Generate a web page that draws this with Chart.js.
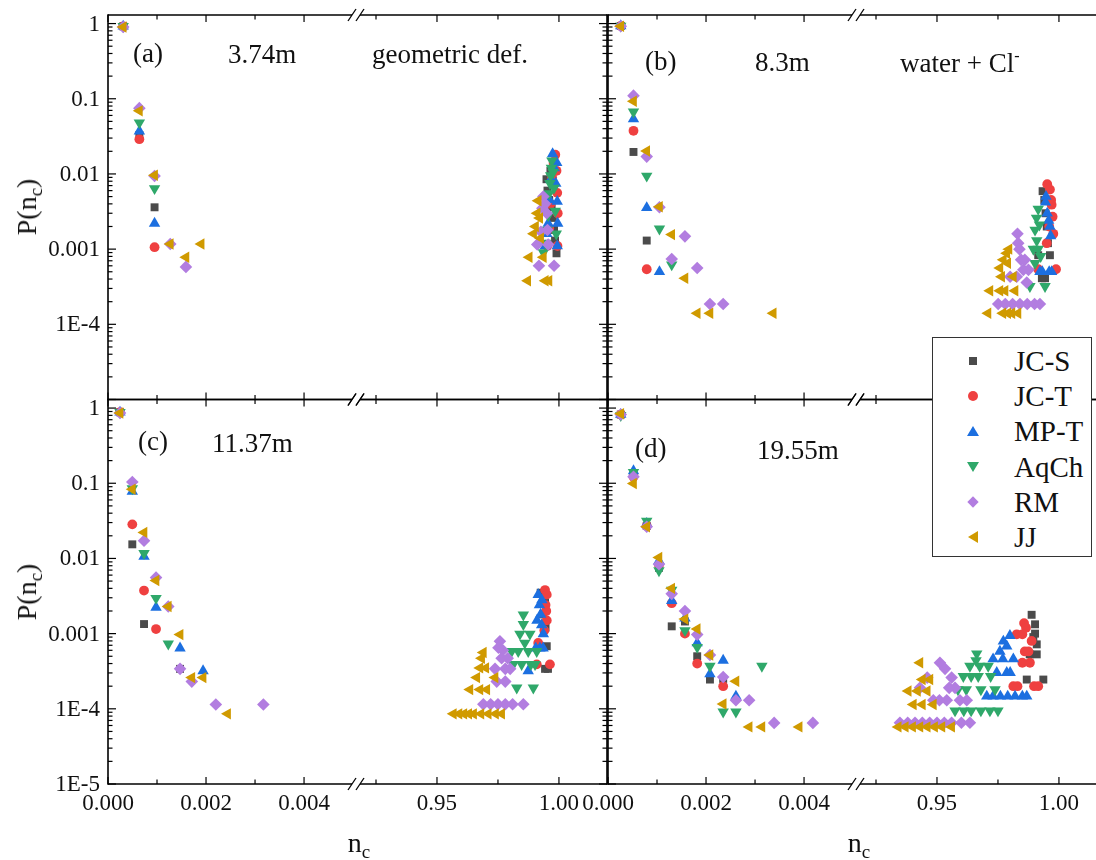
<!DOCTYPE html>
<html><head><meta charset="utf-8">
<script src="https://cdn.jsdelivr.net/npm/chart.js@4.4.1/dist/chart.umd.min.js"></script>
<style>
html,body{margin:0;padding:0;background:#fff;}
body{width:1096px;height:860px;position:relative;overflow:hidden;font-family:"Liberation Serif","Times New Roman",serif;color:#111;}
canvas{position:absolute;}
.t{position:absolute;white-space:nowrap;line-height:1;font-size:27px;}
.ax{position:absolute;white-space:nowrap;line-height:1;font-size:28px;}
sub{font-size:19px;vertical-align:-6px;line-height:0;}
sup{font-size:16px;vertical-align:11px;line-height:0;}
#legend{position:absolute;left:932px;top:337px;width:158px;height:218px;border:1.3px solid #333;background:#fff;}
.lr{position:absolute;left:0;width:158px;height:35px;}
.lt{position:absolute;left:81px;top:3px;font-size:29px;line-height:1;}
.mk{position:absolute;left:40px;top:17px;transform:translate(-50%,-50%);}
</style></head><body>
<script>
// ---------------- data ----------------
const SERIES = ['JC-S','JC-T','MP-T','AqCh','RM','JJ'];
const Y_DECADES = [1e-5,1e-4,1e-3,1e-2,1e-1,1];
const Y_LABELS = ['1E-5','1E-4','0.001','0.01','0.1','1'];
const XL_TICKS = [0,0.002,0.004];
const XL_LABELS = ['0.000','0.002','0.004'];
const XL_MINOR = [0.001,0.003];
const XR_TICKS = [0.95,1.00];
const XR_LABELS = ['0.95','1.00'];
const XR_MINOR = [0.925,0.975];
const PANEL_TAGS = ['(a)','(b)','(c)','(d)'];
const PANEL_CONC = ['3.74m','8.3m','11.37m','19.55m'];

// panel (a) 3.74m
const a_JCS = [[0.00031,0.92],[0.00064,0.033],[0.00095,0.0036],
 [0.9949,0.0085],[0.9953,0.0060],[0.9960,0.0045],[0.9965,0.0110],[0.9970,0.0036],[0.9972,0.0075],[0.9975,0.0026],[0.9980,0.0018],[0.9984,0.0013],[0.9990,0.00088]];
const a_JCT = [[0.00031,0.92],[0.00064,0.029],[0.00095,0.00106],
 [0.9952,0.0011],[0.9960,0.0019],[0.9966,0.0040],[0.9972,0.0090],[0.9978,0.0140],[0.9985,0.0180],[0.9990,0.0110],[0.9993,0.0056],[0.9995,0.0030],[0.9994,0.0011]];
const a_MPT = [[0.00031,0.92],[0.00064,0.037],[0.00095,0.0022],
 [0.9944,0.0011],[0.9950,0.0016],[0.9956,0.0022],[0.9962,0.0045],[0.9967,0.0085],[0.9974,0.0185],[0.9981,0.0120],[0.9987,0.0075],[0.9991,0.0141],[0.9993,0.0043],[0.9995,0.0022],[0.9993,0.0011]];
const a_AqCh = [[0.00031,0.92],[0.00064,0.048],[0.00095,0.0064],
 [0.9936,0.0009],[0.9945,0.0012],[0.9952,0.0018],[0.9956,0.0028],[0.9960,0.0055],[0.9963,0.0075],[0.9966,0.0095],[0.9969,0.0120],[0.9971,0.0150],[0.9976,0.0105],[0.9980,0.0065],[0.9985,0.0032],[0.9989,0.0016]];
const a_RM = [[0.00031,0.90],[0.00064,0.075],[0.00095,0.0094],[0.00127,0.00117],[0.00159,0.00058],
 [0.9911,0.00115],[0.9918,0.0006],[0.9926,0.0017],[0.9932,0.0035],[0.9936,0.0050],[0.9943,0.0040],[0.9950,0.0030],[0.9953,0.0018],[0.9956,0.00115],[0.9980,0.0006]];
const a_JJ = [[0.00031,0.90],[0.00064,0.069],[0.00095,0.0096],[0.00127,0.00117],[0.00159,0.00078],[0.0019,0.00117],
 [0.9872,0.00038],[0.9878,0.00078],[0.9896,0.0016],[0.9904,0.0020],[0.9911,0.0030],[0.9915,0.0044],[0.9921,0.0026],[0.9925,0.0014],[0.9936,0.00078],[0.9944,0.00038],[0.9959,0.00038]];

// panel (b) 8.3m
const b_JCS = [[0.00026,0.93],[0.00052,0.0196],[0.00079,0.0013],
 [0.9915,0.00083],[0.9933,0.0059],[0.9940,0.0045],[0.9945,0.0030],[0.9950,0.0020],[0.9955,0.0012],[0.9963,0.00083],[0.9943,0.00041],[0.9930,0.00041]];
const b_JCT = [[0.00026,0.93],[0.00052,0.0375],[0.00079,0.00054],
 [0.9952,0.0073],[0.9963,0.0062],[0.9968,0.0045],[0.9970,0.0039],[0.9974,0.0027],[0.9960,0.0020],[0.9977,0.0016],[0.9950,0.0012],[0.9915,0.00054],[0.9988,0.00054]];
const b_MPT = [[0.00026,0.93],[0.00052,0.0537],[0.00079,0.00355],[0.00105,0.0005],
 [0.9947,0.0050],[0.9945,0.0042],[0.9952,0.0030],[0.9958,0.0024],[0.9963,0.0020],[0.9966,0.0015],[0.9922,0.00050],[0.9932,0.00050],[0.9960,0.00050],[0.9970,0.00050]];
const b_AqCh = [[0.00026,0.93],[0.00052,0.067],[0.00079,0.0094],[0.00105,0.00186],[0.0013,0.00062],
 [0.9915,0.0034],[0.9908,0.0026],[0.9920,0.0021],[0.9902,0.0018],[0.9909,0.0013],[0.9895,0.0010],[0.9915,0.0010],[0.9925,0.0008],[0.9902,0.00065],[0.9881,0.00032],[0.9943,0.00032]];
const b_RM = [[0.00026,0.92],[0.00052,0.110],[0.00079,0.017],[0.00105,0.0036],[0.0013,0.00074],[0.00157,0.00148],[0.00182,0.00056],[0.00208,0.000186],[0.00235,0.000186],
 [0.9830,0.0016],[0.9833,0.0012],[0.9838,0.0010],[0.9845,0.00072],[0.9860,0.00072],[0.9854,0.00053],[0.9875,0.00053],[0.9827,0.00043],[0.9800,0.00043],[0.9868,0.00036],
 [0.9751,0.000186],[0.9780,0.000186],[0.9810,0.000186],[0.9840,0.000186],[0.9870,0.000186],[0.9900,0.000186],[0.9922,0.000186]];
const b_JJ = [[0.00026,0.92],[0.00052,0.0925],[0.00079,0.0202],[0.00105,0.00366],[0.0013,0.00156],[0.00157,0.00041],[0.00182,0.00014],[0.00208,0.00014],[0.00337,0.00014],
 [0.9795,0.0010],[0.9786,0.00088],[0.9772,0.00072],[0.9790,0.00065],[0.9758,0.00056],[0.9765,0.00043],[0.9813,0.00043],
 [0.9717,0.00028],[0.9758,0.00028],[0.9779,0.00028],[0.9820,0.00028],[0.9709,0.00014],[0.9770,0.00014],[0.9790,0.00014],[0.9807,0.00014],[0.9832,0.00014]];

// panel (c) 11.37m
const c_JCS = [[0.000245,0.88],[0.000496,0.0154],[0.000735,0.00134],[0.00147,0.00034],
 [0.9925,0.0035],[0.9943,0.0026],[0.9935,0.0018],[0.9945,0.0012],[0.9950,0.00068],[0.9943,0.00034],[0.9955,0.00034]];
const c_JCT = [[0.000245,0.88],[0.000496,0.0284],[0.000735,0.00374],[0.00098,0.00115],
 [0.9943,0.0038],[0.9950,0.0033],[0.9945,0.0024],[0.9948,0.0020],[0.9950,0.0015],[0.9940,0.0011],[0.9915,0.00075],[0.9963,0.00039],[0.9909,0.00039]];
const c_MPT = [[0.000245,0.88],[0.000496,0.078],[0.000735,0.0106],[0.00098,0.00223],[0.00147,0.00064],[0.00194,0.00032],
 [0.9915,0.0033],[0.9930,0.0028],[0.9920,0.0024],[0.9925,0.0018],[0.9910,0.0015],[0.9929,0.0013],[0.9936,0.00099],[0.9905,0.00064],[0.9922,0.00064],[0.9935,0.00064],[0.9874,0.00032]];
const c_AqCh = [[0.000245,0.88],[0.000496,0.085],[0.000735,0.0117],[0.00098,0.00296],[0.00123,0.00073],
 [0.9854,0.00178],[0.9854,0.00133],[0.9840,0.00099],[0.9881,0.00099],[0.9860,0.00075],[0.9806,0.00058],[0.9833,0.00058],[0.9874,0.00058],[0.9909,0.00058],
 [0.9813,0.00039],[0.9847,0.00039],[0.9885,0.00039],[0.9902,0.00039],[0.9827,0.00019],[0.9895,0.00019]];
const c_RM = [[0.000245,0.86],[0.000496,0.104],[0.000735,0.0172],[0.00098,0.00556],[0.00123,0.0023],[0.00147,0.00034],[0.00171,0.00023],[0.0022,0.000114],[0.00317,0.000114],
 [0.9758,0.00079],[0.9752,0.00065],[0.9770,0.0006],[0.9765,0.00047],[0.9790,0.00047],[0.9738,0.00034],[0.9780,0.00034],[0.9800,0.00034],[0.9745,0.00023],[0.9780,0.00023],
 [0.9690,0.000115],[0.9720,0.000115],[0.9750,0.000115],[0.9780,0.000115],[0.9810,0.000115],[0.9854,0.000115]];
const c_JJ = [[0.000245,0.86],[0.000496,0.083],[0.000735,0.0222],[0.00098,0.00508],[0.00123,0.0023],[0.00147,0.00097],[0.00171,0.00026],[0.00194,0.00026],[0.00244,0.0000857],
 [0.9690,0.00056],[0.9683,0.00047],[0.9676,0.00035],[0.9700,0.00035],[0.9663,0.00026],[0.9738,0.00026],[0.9635,0.00018],[0.9676,0.00018],[0.9704,0.00018],
 [0.9567,0.0000857],[0.9590,0.0000857],[0.9610,0.0000857],[0.9630,0.0000857],[0.9650,0.0000857],[0.9680,0.0000857],[0.9710,0.0000857],[0.9740,0.0000857],[0.9765,0.0000857]];

// panel (d) 19.55m
const d_JCS = [[0.00026,0.82],[0.00052,0.13],[0.00079,0.027],[0.00104,0.0075],[0.0013,0.00125],[0.00157,0.00145],[0.00182,0.0005],[0.00208,0.000245],[0.00235,0.00025],
 [0.9888,0.00178],[0.9902,0.00133],[0.9902,0.0010],[0.9895,0.0009],[0.9909,0.00072],[0.9909,0.00053],[0.9880,0.00053],[0.9868,0.000245],[0.9936,0.000245]];
const d_JCT = [[0.00026,0.82],[0.00052,0.122],[0.00079,0.027],[0.00104,0.0082],[0.0013,0.00254],[0.00157,0.001],[0.00182,0.0004],[0.00235,0.0002],
 [0.9857,0.00138],[0.9865,0.0012],[0.9827,0.00098],[0.9850,0.00098],[0.9888,0.0008],[0.9860,0.00058],[0.9875,0.00058],[0.9881,0.00041],[0.9850,0.00041],
 [0.9813,0.0002],[0.9830,0.0002],[0.9898,0.0002],[0.9915,0.0002]];
const d_MPT = [[0.00026,0.82],[0.00052,0.146],[0.00079,0.029],[0.00104,0.0093],[0.0013,0.00275],[0.00157,0.0016],[0.00182,0.00075],[0.00208,0.00029],[0.00235,0.00044],[0.00261,0.000147],
 [0.9799,0.00094],[0.9772,0.00079],[0.9786,0.00068],[0.9758,0.00058],[0.9730,0.00046],[0.9770,0.00046],[0.9813,0.00046],[0.9745,0.000303],[0.9786,0.000303],[0.9800,0.000303],
 [0.9704,0.000147],[0.9730,0.000147],[0.9760,0.000147],[0.9790,0.000147],[0.9820,0.000147],[0.9850,0.000147],[0.9868,0.000147]];
const d_AqCh = [[0.00026,0.80],[0.00052,0.14],[0.00079,0.0314],[0.00104,0.0069],[0.0013,0.0038],[0.00157,0.0011],[0.00182,0.00066],[0.00208,0.00037],[0.00235,0.000091],[0.00261,0.000091],[0.00314,0.00037],
 [0.9663,0.00054],[0.9660,0.00044],[0.9635,0.00037],[0.9675,0.00037],[0.9710,0.00037],[0.9608,0.00027],[0.9640,0.00027],[0.9669,0.00027],[0.9720,0.00027],
 [0.9586,0.00018],[0.9620,0.00018],[0.9680,0.00018],[0.9738,0.00018],[0.9574,0.0000944],[0.9610,0.0000944],[0.9640,0.0000944],[0.9680,0.0000944],[0.9717,0.0000944],[0.9750,0.0000944]];
const d_RM = [[0.00026,0.82],[0.00052,0.122],[0.00079,0.0264],[0.00104,0.0084],[0.0013,0.00338],[0.00157,0.002],[0.00182,0.00097],[0.00208,0.00052],[0.00235,0.000265],[0.00261,0.00013],[0.00288,0.00013],[0.00339,0.000065],[0.00418,0.000065],
 [0.9512,0.00041],[0.9533,0.00034],[0.9560,0.00026],[0.9460,0.00026],[0.9574,0.00019],[0.9550,0.00019],[0.9430,0.00019],[0.9485,0.00013],[0.9510,0.00013],[0.9540,0.00013],[0.9594,0.00013],[0.9622,0.00013],
 [0.9348,0.0000654],[0.9380,0.0000654],[0.9410,0.0000654],[0.9440,0.0000654],[0.9470,0.0000654],[0.9500,0.0000654],[0.9530,0.0000654],[0.9560,0.0000654],[0.9600,0.0000654],[0.9635,0.0000654]];
const d_JJ = [[0.00026,0.84],[0.00052,0.099],[0.00079,0.0264],[0.00104,0.0103],[0.0013,0.004],[0.00157,0.00156],[0.00182,0.00115],[0.00208,0.00052],[0.00235,0.000116],[0.00261,0.000232],[0.00288,0.0000575],[0.00314,0.0000575],[0.0039,0.0000575],
 [0.9430,0.00041],[0.9440,0.000245],[0.9471,0.000245],[0.9382,0.000173],[0.9420,0.000173],[0.9460,0.000173],[0.9403,0.000114],[0.9440,0.000114],[0.9485,0.000114],
 [0.9341,0.0000575],[0.9370,0.0000575],[0.9400,0.0000575],[0.9430,0.0000575],[0.9460,0.0000575],[0.9490,0.0000575],[0.9520,0.0000575],[0.9560,0.0000575]];

// ---------------- style / layout ----------------
const COLORS = ['#4b4b4b','#ef4040','#1c6fe0','#2fa86a','#b27de0','#d09a00'];
const STYLES = ['rect','circle','triangle','triangle','rectRot','triangle'];
const ROT = [0,0,0,180,0,270];
const RAD = [5.6,4.9,6.6,6.6,6.3,6.6];

const AREA_W = 499, AREA_H = 384.5, SPLIT_PX = 248;
const XL_MIN = 0, XL_MAX = 0.00506, XR_MIN = 0.9168, XR_MAX = 1.0197;
const Y_MIN = 1e-5, Y_MAX = 1.3;
const CW = 622, CH = 480;

const PANELS = [
 {l:108, t:15,    data:[a_JCS,a_JCT,a_MPT,a_AqCh,a_RM,a_JJ], yLab:true,  yLabMin:1e-4, xLab:false},
 {l:608, t:15,    data:[b_JCS,b_JCT,b_MPT,b_AqCh,b_RM,b_JJ], yLab:false, yLabMin:1,    xLab:false},
 {l:108, t:399.5, data:[c_JCS,c_JCT,c_MPT,c_AqCh,c_RM,c_JJ], yLab:true,  yLabMin:1e-5, xLab:true},
 {l:608, t:399.5, data:[d_JCS,d_JCT,d_MPT,d_AqCh,d_RM,d_JJ], yLab:false, yLabMin:1,    xLab:true}
];

function buildDatasets(seriesData){
  const ds = [];
  seriesData.forEach((pts,i)=>{
    const st = {label:SERIES[i], pointStyle:STYLES[i], pointRotation:ROT[i], pointRadius:RAD[i], pointHoverRadius:RAD[i],
      pointBackgroundColor:COLORS[i], pointBorderWidth:0, backgroundColor:COLORS[i], borderColor:COLORS[i], order:5-i, clip:false};
    ds.push(Object.assign({}, st, {xAxisID:'xL', data:pts.filter(p=>p[0]<0.5).map(p=>({x:p[0],y:p[1]}))}));
    ds.push(Object.assign({}, st, {xAxisID:'xR', data:pts.filter(p=>p[0]>=0.5).map(p=>({x:p[0],y:p[1]}))}));
  });
  return ds;
}

const framePlugin = {
  id:'frame',
  afterLayout(chart){
    const ca = chart.chartArea;
    const xl = chart.scales.xL, xr = chart.scales.xR, y = chart.scales.y;
    const split = ca.left + SPLIT_PX;
    xl.left = ca.left; xl.right = split; xl.width = split - ca.left; xl.configure();
    xr.left = split; xr.right = ca.right; xr.width = ca.right - split; xr.configure();
    y.top = ca.top; y.bottom = ca.bottom; y.height = ca.bottom - ca.top; y.configure();
  },
  afterDatasetsDraw(chart){
    const ctx = chart.ctx, ca = chart.chartArea, p = chart.options.plugins.frame;
    const xl = chart.scales.xL, xr = chart.scales.xR, ys = chart.scales.y;
    const split = xl.right;
    const line = (x1,y1,x2,y2)=>{ctx.beginPath();ctx.moveTo(x1,y1);ctx.lineTo(x2,y2);ctx.stroke();};
    ctx.save();
    ctx.strokeStyle = '#000';
    // ticks
    ctx.lineWidth = 1.2;
    const yt = (v,len)=>{const py = ys.getPixelForValue(v); line(ca.left,py,ca.left+len,py); line(ca.right,py,ca.right-len,py);};
    Y_DECADES.forEach(v=>yt(v,8));
    for (let e=-5; e<0; e++) for (let m=2; m<=9; m++) yt(m*Math.pow(10,e),4.5);
    const xt = (sc,v,len)=>{const px = sc.getPixelForValue(v); line(px,ca.bottom,px,ca.bottom-len); line(px,ca.top,px,ca.top+len);};
    XL_TICKS.forEach(v=>xt(xl,v,7)); XL_MINOR.forEach(v=>xt(xl,v,4.5));
    XR_TICKS.forEach(v=>xt(xr,v,7)); XR_MINOR.forEach(v=>xt(xr,v,4.5));
    // frame
    ctx.lineWidth = 1.6;
    line(ca.left, ca.top-0.8, ca.left, ca.bottom+0.8);
    line(ca.right, ca.top-0.8, ca.right, ca.bottom+0.8);
    const s1 = split-4, s2 = split+4;
    [ca.top, ca.bottom].forEach(yy=>{
      ctx.lineWidth = 1.6;
      line(ca.left, yy, s1, yy);
      line(s2, yy, ca.right, yy);
      ctx.lineWidth = 1.3;
      line(s1-4, yy+6, s1+4, yy-6);
      line(s2-4, yy+6, s2+4, yy-6);
    });
    // labels
    ctx.fillStyle = '#111';
    if (p.yLab){
      ctx.font = '23px "Liberation Serif"'; ctx.textAlign = 'right'; ctx.textBaseline = 'middle';
      Y_DECADES.forEach((v,i)=>{ if (v < p.yLabMin) return; ctx.fillText(Y_LABELS[i], ca.left-8, ys.getPixelForValue(v)+1); });
    }
    if (p.xLab){
      ctx.font = '23px "Liberation Serif"'; ctx.textAlign = 'center'; ctx.textBaseline = 'alphabetic';
      XL_TICKS.forEach((v,i)=>ctx.fillText(XL_LABELS[i], xl.getPixelForValue(v), ca.bottom+26));
      XR_TICKS.forEach((v,i)=>ctx.fillText(XR_LABELS[i], xr.getPixelForValue(v), ca.bottom+26));
    }
    ctx.restore();
  }
};

PANELS.forEach((p,k)=>{
  const cv = document.createElement('canvas');
  const cl = p.l - 108, ct = Math.floor(p.t) - 15;
  cv.width = CW; cv.height = CH;
  cv.style.left = cl+'px'; cv.style.top = ct+'px';
  cv.style.width = CW+'px'; cv.style.height = CH+'px';
  document.body.appendChild(cv);
  const padTop = p.t - ct, padLeft = p.l - cl;
  new Chart(cv, {
    type:'scatter',
    data:{datasets:buildDatasets(p.data)},
    options:{
      responsive:false, animation:false, devicePixelRatio:1, events:[],
      layout:{padding:{left:padLeft, top:padTop, right:CW-padLeft-AREA_W, bottom:CH-padTop-AREA_H}},
      plugins:{legend:{display:false}, tooltip:{enabled:false}, frame:{yLab:p.yLab, yLabMin:p.yLabMin, xLab:p.xLab}},
      scales:{
        xL:{type:'linear', min:XL_MIN, max:XL_MAX, display:false},
        xR:{type:'linear', min:XR_MIN, max:XR_MAX, display:false},
        y:{type:'logarithmic', min:Y_MIN, max:Y_MAX, display:false}
      }
    },
    plugins:[framePlugin]
  });
});
</script>

<!-- panel annotations -->
<div class="t" style="left:133px;top:40px;">(a)</div>
<div class="t" style="left:228px;top:41px;">3.74m</div>
<div class="t" style="left:372px;top:41px;">geometric def.</div>
<div class="t" style="left:645px;top:48px;">(b)</div>
<div class="t" style="left:755px;top:49px;">8.3m</div>
<div class="t" style="left:900px;top:50px;">water + Cl<sup>-</sup></div>
<div class="t" style="left:138px;top:428px;">(c)</div>
<div class="t" style="left:212px;top:430px;">11.37m</div>
<div class="t" style="left:635px;top:435px;">(d)</div>
<div class="t" style="left:757px;top:437px;">19.55m</div>

<!-- axis titles -->
<div class="ax" style="left:27px;top:207px;transform:translate(-50%,-50%) rotate(-90deg);">P(n<sub>c</sub>)</div>
<div class="ax" style="left:27px;top:592px;transform:translate(-50%,-50%) rotate(-90deg);">P(n<sub>c</sub>)</div>
<div class="ax" style="left:359px;top:829px;transform:translateX(-50%);">n<sub>c</sub></div>
<div class="ax" style="left:859px;top:829px;transform:translateX(-50%);">n<sub>c</sub></div>

<!-- legend -->
<div id="legend">
  <div class="lr" style="top:6px;"><div class="mk" style="width:8px;height:8px;background:#4b4b4b;"></div><div class="lt">JC-S</div></div>
  <div class="lr" style="top:41px;"><div class="mk" style="width:10px;height:10px;border-radius:50%;background:#ef4040;"></div><div class="lt">JC-T</div></div>
  <div class="lr" style="top:76px;"><div class="mk" style="width:0;height:0;border-left:6px solid transparent;border-right:6px solid transparent;border-bottom:10px solid #1c6fe0;"></div><div class="lt">MP-T</div></div>
  <div class="lr" style="top:112px;"><div class="mk" style="width:0;height:0;border-left:6px solid transparent;border-right:6px solid transparent;border-top:10px solid #2fa86a;"></div><div class="lt">AqCh</div></div>
  <div class="lr" style="top:147px;"><div class="mk" style="width:8px;height:8px;background:#b27de0;transform:translate(-50%,-50%) rotate(45deg);"></div><div class="lt">RM</div></div>
  <div class="lr" style="top:182px;"><div class="mk" style="width:0;height:0;border-top:6px solid transparent;border-bottom:6px solid transparent;border-right:10px solid #d09a00;"></div><div class="lt">JJ</div></div>
</div>
</body></html>
